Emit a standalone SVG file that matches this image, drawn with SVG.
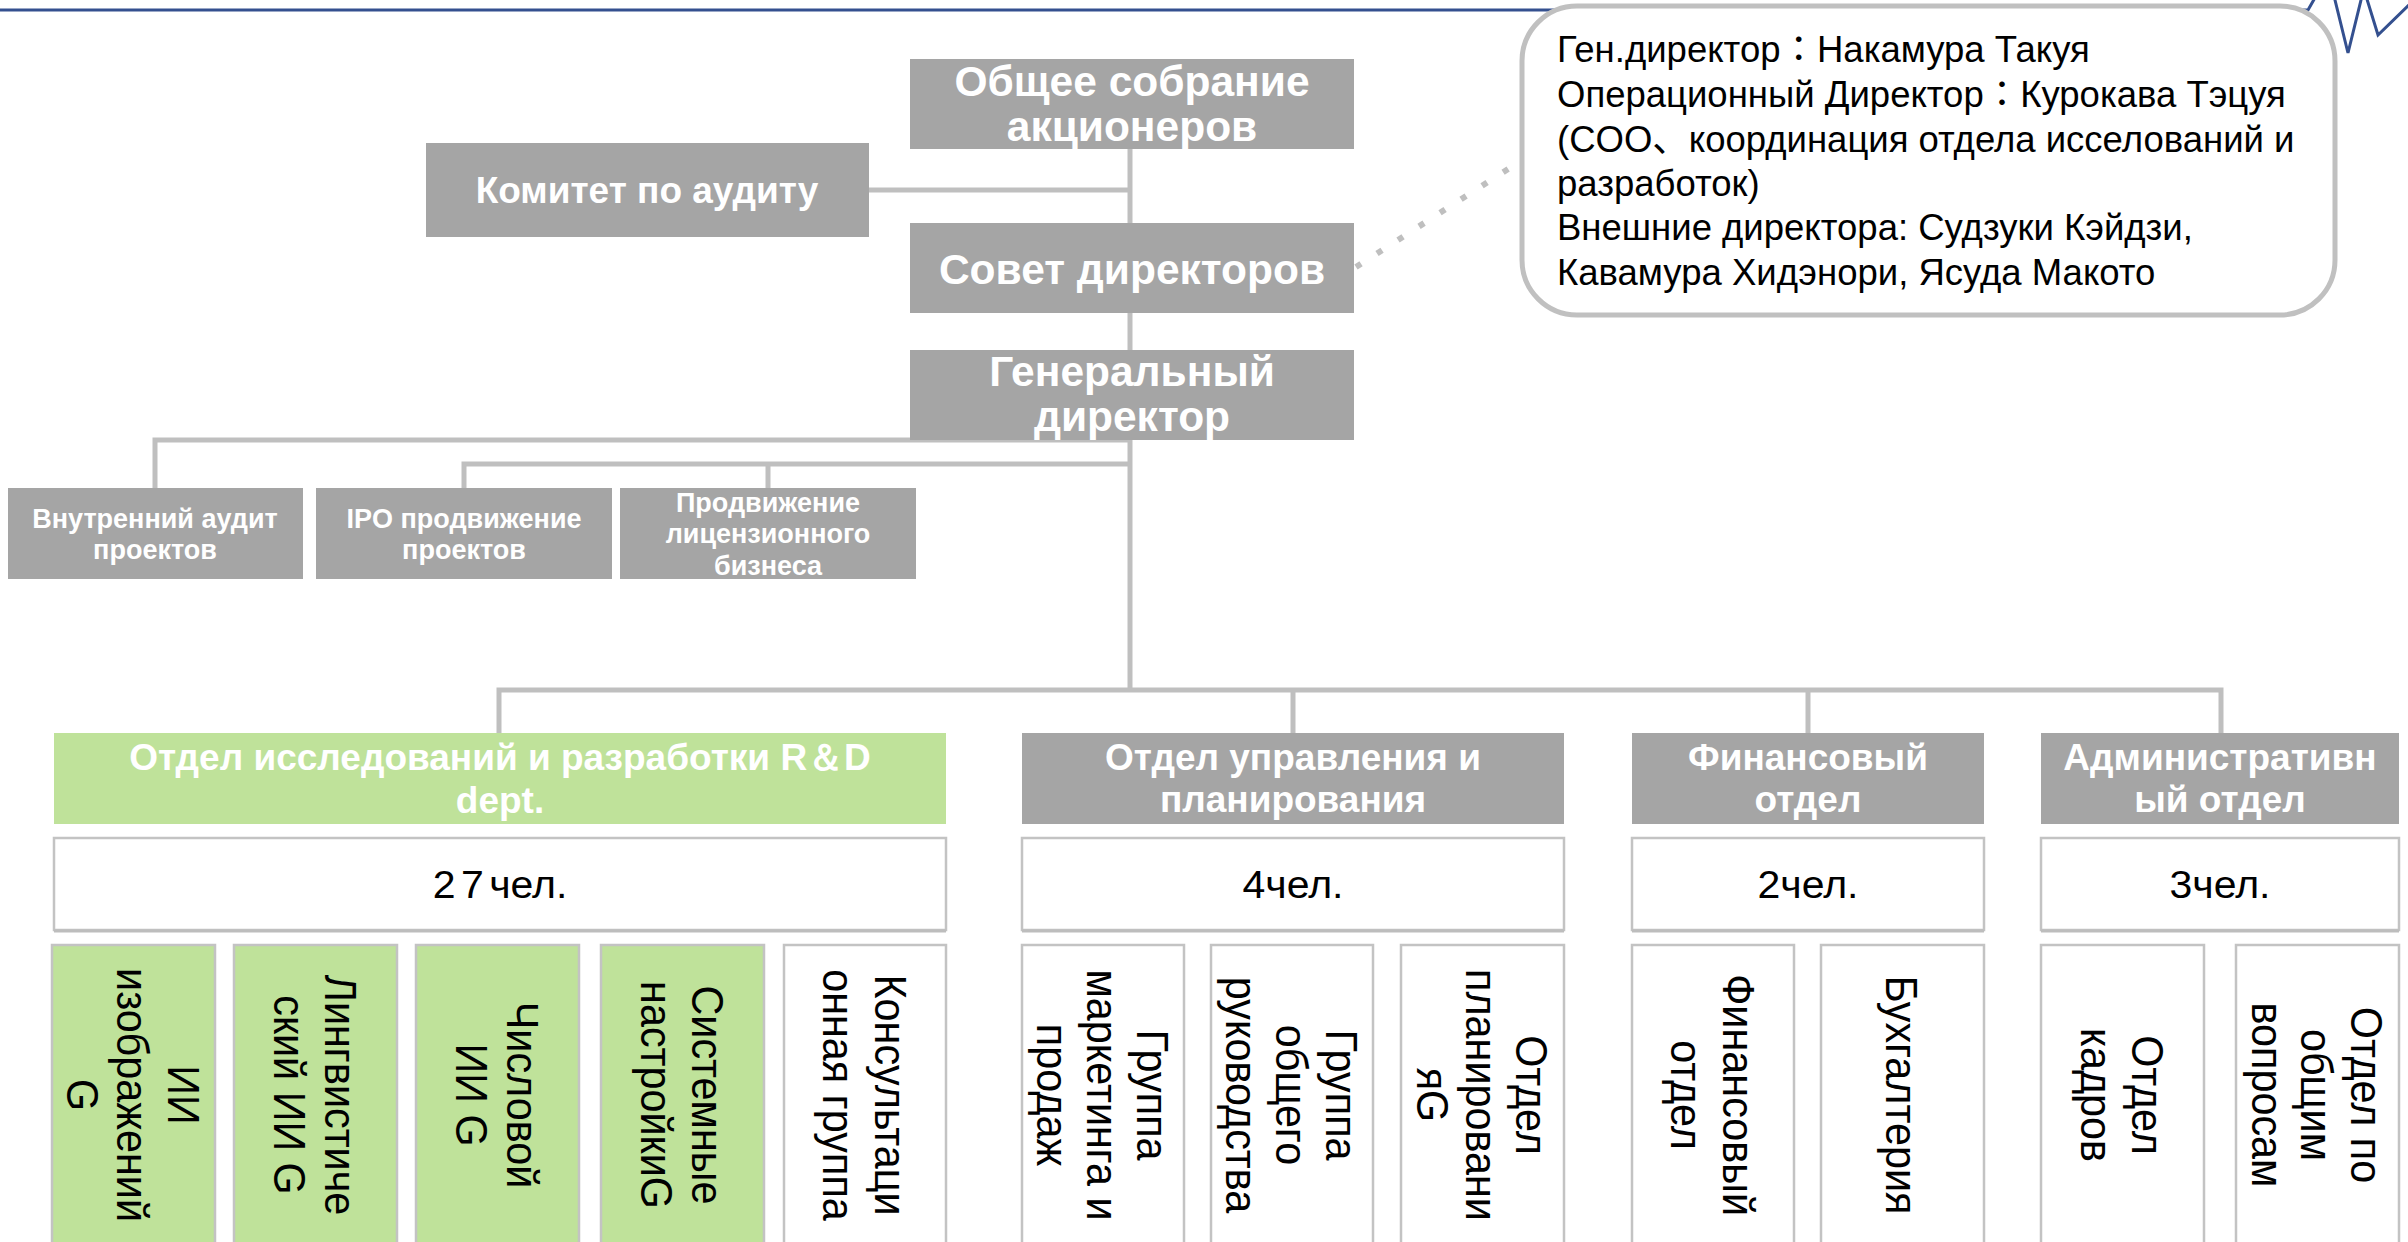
<svg xmlns="http://www.w3.org/2000/svg" width="2408" height="1242" viewBox="0 0 2408 1242">
<style>
.g{fill:#A5A5A5}
.gr{fill:#BFE29A}
.w{fill:#FFFFFF;stroke:#C3C3C3;stroke-width:2.5}
.tb{font-family:"Liberation Sans",Arial,sans-serif;font-weight:bold;fill:#FFFFFF;text-anchor:middle}
.tr{font-family:"Liberation Sans","Noto Sans CJK JP",sans-serif;fill:#000000}
.tv{font-family:"Liberation Sans",Arial,sans-serif;font-size:44px;fill:#000000;text-anchor:middle}
.ln{stroke:#BFBFBF;stroke-width:5;fill:none}
.bl{stroke:#34508F;stroke-width:3;fill:none}
.sh{stroke:#BDBDBD;stroke-width:3}
</style>
<rect x="0" y="0" width="2408" height="1242" fill="#FFFFFF"/>
<g id="header-line">
<polyline class="bl" points="0,10 2308,10 2316,-4"/>
<polyline class="bl" points="2334,-4 2348,53 2362,-4"/>
<polyline class="bl" points="2366,-4 2378,35 2412,2"/>
</g>
<g id="connectors">
<line class="ln" x1="1130" y1="149" x2="1130" y2="692"/>
<line class="ln" x1="869" y1="190" x2="1130" y2="190"/>
<polyline class="ln" points="155,488 155,440 1130,440"/>
<polyline class="ln" points="464,488 464,464 1130,464"/>
<line class="ln" x1="768" y1="464" x2="768" y2="488"/>
<polyline class="ln" points="499,733 499,690 2221,690 2221,733"/>
<line class="ln" x1="1293" y1="690" x2="1293" y2="733"/>
<line class="ln" x1="1808" y1="690" x2="1808" y2="733"/>
<line x1="1356" y1="267" x2="1522" y2="160" stroke="#BFBFBF" stroke-width="6" stroke-dasharray="6 19"/>
</g>
<g id="callout">
<rect x="1522" y="6" width="813" height="309" rx="55" ry="55" fill="#FFFFFF" stroke="#C0C0C0" stroke-width="5"/>
<text class="tr" font-size="36.5">
<tspan x="1557" y="62">Ген.директор：Накамура Такуя</tspan>
<tspan x="1557" y="107">Операционный Директор：Курокава Тэцуя</tspan>
<tspan x="1557" y="152">(COO、координация отдела исселований и</tspan>
<tspan x="1557" y="196">разработок)</tspan>
<tspan x="1557" y="240">Внешние директора: Судзуки Кэйдзи,</tspan>
<tspan x="1557" y="285">Кавамура Хидэнори, Ясуда Макото</tspan>
</text>
</g>
<g id="shareholders">
<rect class="g" x="910" y="59" width="444" height="90"/>
<text class="tb" font-size="42.5"><tspan x="1132" y="96">Общее собрание</tspan><tspan x="1132" y="141">акционеров</tspan></text>
</g>
<g id="audit-committee">
<rect class="g" x="426" y="143" width="443" height="94"/>
<text class="tb" font-size="37" x="647" y="203">Комитет по аудиту</text>
</g>
<g id="board">
<rect class="g" x="910" y="223" width="444" height="90"/>
<text class="tb" font-size="42.5" x="1132" y="284">Совет директоров</text>
</g>
<g id="ceo">
<rect class="g" x="910" y="350" width="444" height="90"/>
<text class="tb" font-size="42.5"><tspan x="1132" y="386">Генеральный</tspan><tspan x="1132" y="431">директор</tspan></text>
</g>
<g id="internal-audit">
<rect class="g" x="8" y="488" width="295" height="91"/>
<text class="tb" font-size="27"><tspan x="155" y="528">Внутренний аудит</tspan><tspan x="155" y="559">проектов</tspan></text>
</g>
<g id="ipo">
<rect class="g" x="316" y="488" width="296" height="91"/>
<text class="tb" font-size="27"><tspan x="464" y="528">IPO продвижение</tspan><tspan x="464" y="559">проектов</tspan></text>
</g>
<g id="license">
<rect class="g" x="620" y="488" width="296" height="91"/>
<text class="tb" font-size="27"><tspan x="768" y="512">Продвижение</tspan><tspan x="768" y="543">лицензионного</tspan><tspan x="768" y="575">бизнеса</tspan></text>
</g>
<g id="rd-dept">
<rect class="gr" x="54" y="733" width="892" height="91"/>
<text class="tb" font-size="37"><tspan x="500" y="770">Отдел исследований и разработки   R＆D</tspan><tspan x="500" y="813">dept.</tspan></text>
<rect class="w" x="54" y="838" width="892" height="92"/>
<line class="sh" x1="54" y1="931" x2="946" y2="931"/>
<text class="tr" font-size="38" transform="translate(500,898) scale(1.08,1)" text-anchor="middle"><tspan letter-spacing="5">27</tspan>чел.</text>
</g>
<g id="mgmt-dept">
<rect class="g" x="1022" y="733" width="542" height="91"/>
<text class="tb" font-size="37"><tspan x="1293" y="770">Отдел управления и</tspan><tspan x="1293" y="812">планирования</tspan></text>
<rect class="w" x="1022" y="838" width="542" height="92"/>
<line class="sh" x1="1022" y1="931" x2="1564" y2="931"/>
<text class="tr" font-size="38" transform="translate(1293,898) scale(1.08,1)" text-anchor="middle">4чел.</text>
</g>
<g id="fin-dept">
<rect class="g" x="1632" y="733" width="352" height="91"/>
<text class="tb" font-size="37"><tspan x="1808" y="770">Финансовый</tspan><tspan x="1808" y="812">отдел</tspan></text>
<rect class="w" x="1632" y="838" width="352" height="92"/>
<line class="sh" x1="1632" y1="931" x2="1984" y2="931"/>
<text class="tr" font-size="38" transform="translate(1808,898) scale(1.08,1)" text-anchor="middle">2чел.</text>
</g>
<g id="admin-dept">
<rect class="g" x="2041" y="733" width="358" height="91"/>
<text class="tb" font-size="37"><tspan x="2220" y="770">Административн</tspan><tspan x="2220" y="812">ый отдел</tspan></text>
<rect class="w" x="2041" y="838" width="358" height="92"/>
<line class="sh" x1="2041" y1="931" x2="2399" y2="931"/>
<text class="tr" font-size="38" transform="translate(2220,898) scale(1.08,1)" text-anchor="middle">3чел.</text>
</g>
<g id="g-image-ai">
<rect class="gr" x="52" y="945" width="163" height="320" stroke="#C3C3C3" stroke-width="2.5"/>
<text class="tv" transform="translate(133.5,1095) rotate(90) scale(0.94,1)"><tspan x="0" y="-35">ИИ</tspan><tspan x="0" y="16">изображений</tspan><tspan x="0" y="67">G</tspan></text>
</g>
<g id="g-ling-ai">
<rect class="gr" x="234" y="945" width="163" height="320" stroke="#C3C3C3" stroke-width="2.5"/>
<text class="tv" transform="translate(315.5,1095) rotate(90) scale(0.94,1)"><tspan x="0" y="-10">Лингвистиче</tspan><tspan x="0" y="42">ский ИИ G</tspan></text>
</g>
<g id="g-num-ai">
<rect class="gr" x="416" y="945" width="163" height="320" stroke="#C3C3C3" stroke-width="2.5"/>
<text class="tv" transform="translate(497.5,1095) rotate(90) scale(0.94,1)"><tspan x="0" y="-10">Числовой</tspan><tspan x="0" y="42">ИИ G</tspan></text>
</g>
<g id="g-sys">
<rect class="gr" x="601" y="945" width="163" height="320" stroke="#C3C3C3" stroke-width="2.5"/>
<text class="tv" transform="translate(682.5,1095) rotate(90) scale(0.94,1)"><tspan x="0" y="-10">Системные</tspan><tspan x="0" y="42">настройкиG</tspan></text>
</g>
<g id="g-consult">
<rect class="w" x="784" y="945" width="162" height="320"/>
<text class="tv" transform="translate(865,1095) rotate(90) scale(0.94,1)"><tspan x="0" y="-10">Консультаци</tspan><tspan x="0" y="42">онная группа</tspan></text>
</g>
<g id="g-marketing">
<rect class="w" x="1022" y="945" width="162" height="320"/>
<text class="tv" transform="translate(1103,1095) rotate(90) scale(0.94,1)"><tspan x="0" y="-34">Группа</tspan><tspan x="0" y="16">маркетинга и</tspan><tspan x="0" y="66">продаж</tspan></text>
</g>
<g id="g-general-mgmt">
<rect class="w" x="1211" y="945" width="162" height="320"/>
<text class="tv" transform="translate(1292,1095) rotate(90) scale(0.94,1)"><tspan x="0" y="-34">Группа</tspan><tspan x="0" y="16">общего</tspan><tspan x="0" y="66">руководства</tspan></text>
</g>
<g id="g-planning">
<rect class="w" x="1401" y="945" width="163" height="320"/>
<text class="tv" transform="translate(1482.5,1095) rotate(90) scale(0.94,1)"><tspan x="0" y="-34">Отдел</tspan><tspan x="0" y="16">планировани</tspan><tspan x="0" y="66">яG</tspan></text>
</g>
<g id="g-finance">
<rect class="w" x="1632" y="945" width="162" height="320"/>
<text class="tv" transform="translate(1713,1095) rotate(90) scale(0.94,1)"><tspan x="0" y="-10">Финансовый</tspan><tspan x="0" y="42">отдел</tspan></text>
</g>
<g id="g-accounting">
<rect class="w" x="1821" y="945" width="163" height="320"/>
<text class="tv" transform="translate(1902.5,1095) rotate(90) scale(0.94,1)"><tspan x="0" y="16">Бухгалтерия</tspan></text>
</g>
<g id="g-hr">
<rect class="w" x="2041" y="945" width="163" height="320"/>
<text class="tv" transform="translate(2122.5,1095) rotate(90) scale(0.94,1)"><tspan x="0" y="-10">Отдел</tspan><tspan x="0" y="42">кадров</tspan></text>
</g>
<g id="g-general-affairs">
<rect class="w" x="2236" y="945" width="163" height="320"/>
<text class="tv" transform="translate(2317.5,1095) rotate(90) scale(0.94,1)"><tspan x="0" y="-34">Отдел по</tspan><tspan x="0" y="16">общим</tspan><tspan x="0" y="66">вопросам</tspan></text>
</g>
</svg>
